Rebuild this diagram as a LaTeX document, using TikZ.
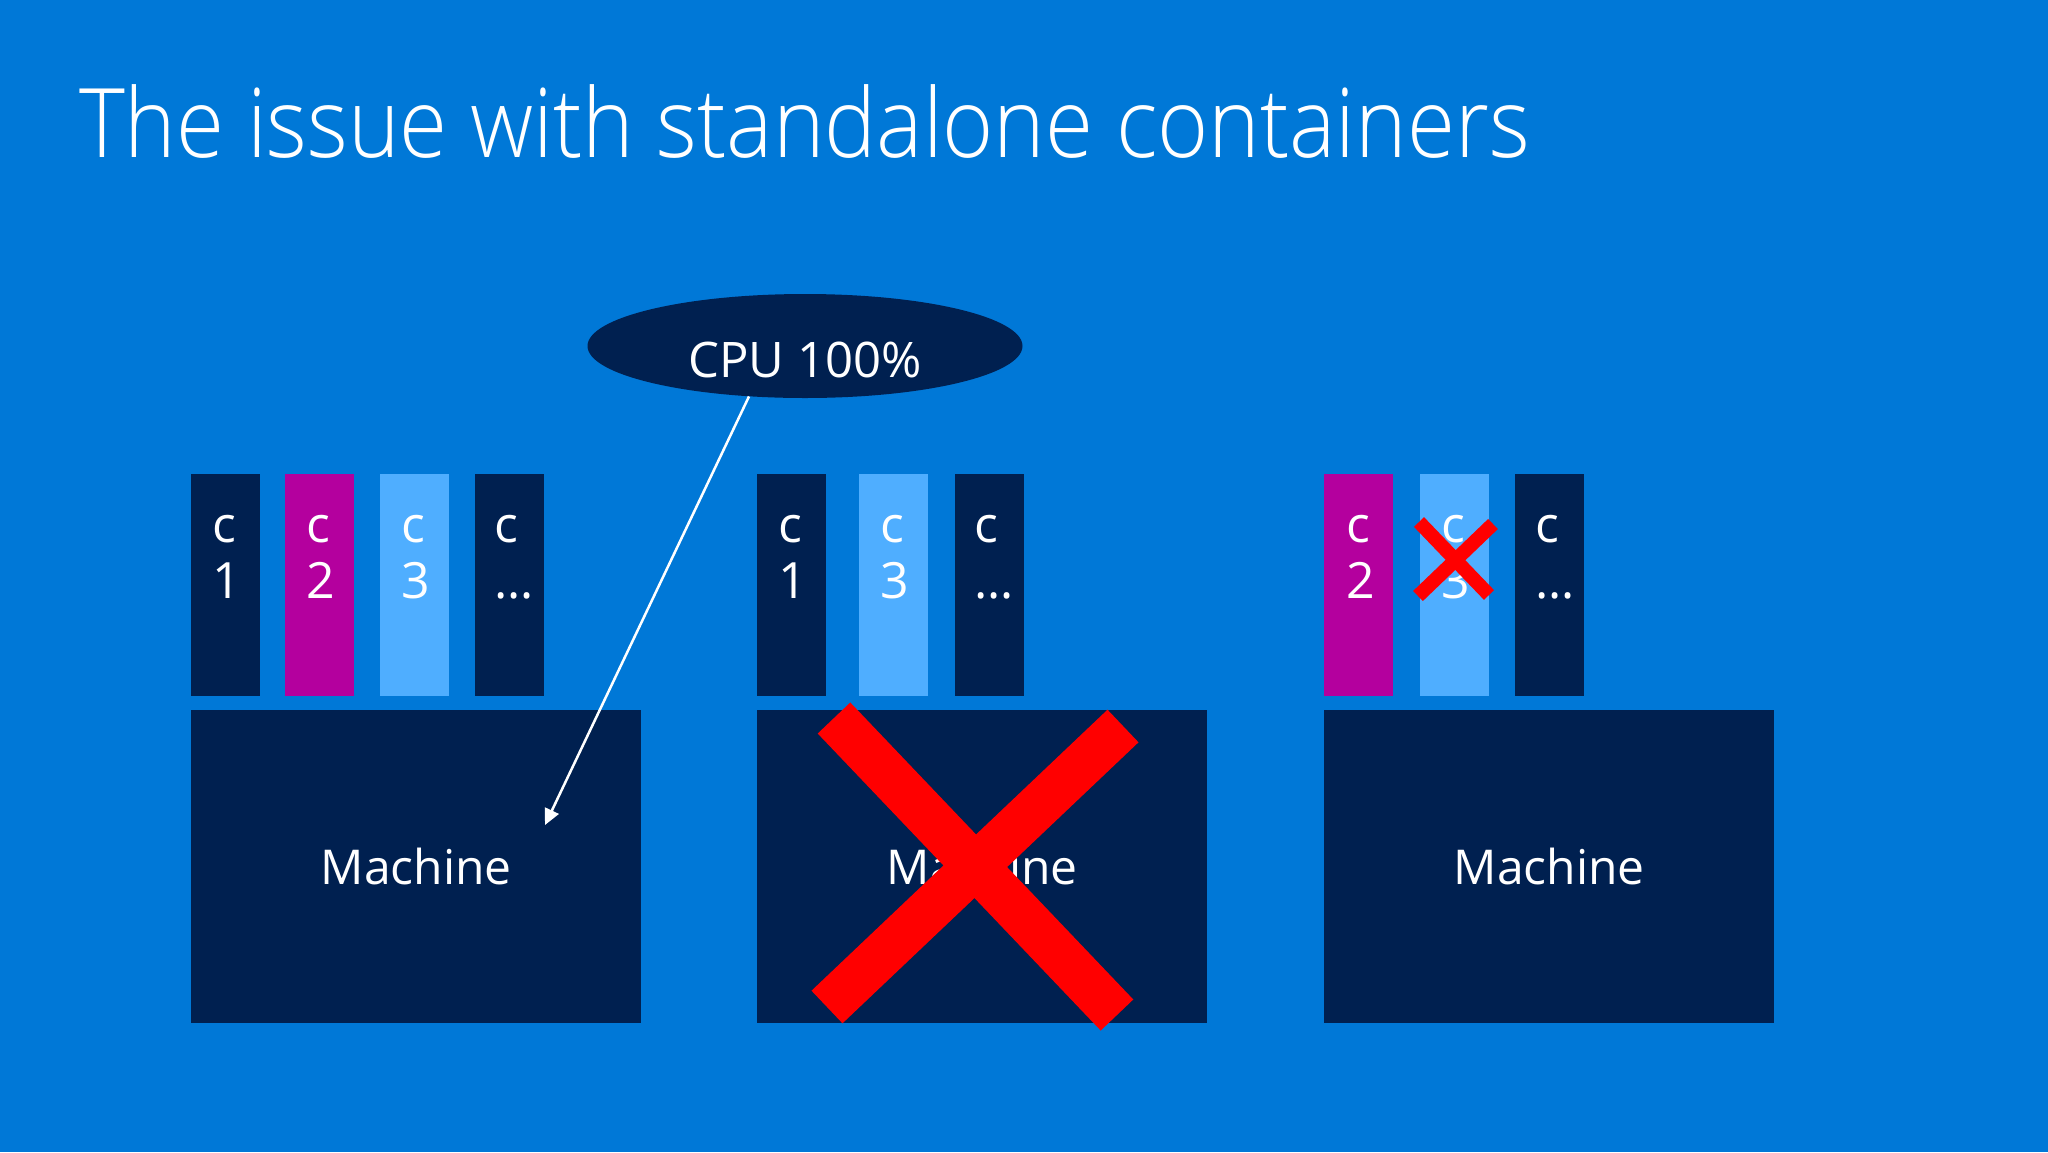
\documentclass[tikz,border=0pt]{standalone}
\usepackage{fontspec}
\setmainfont{Open Sans}
\newfontfamily\titlefont{Open Sans Light}
\usetikzlibrary{shapes.geometric,arrows.meta}
\definecolor{bgblue}{RGB}{0,120,215}
\definecolor{navy}{RGB}{0,32,80}
\definecolor{magenta}{RGB}{180,0,158}
\definecolor{lightblue}{RGB}{79,174,255}
\definecolor{xred}{RGB}{255,0,0}
\tikzset{
  cont/.style={rectangle, anchor=north west, inner sep=0pt, minimum width=69pt, minimum height=222pt, draw=none},
  ctext/.style={anchor=base west, inner sep=0pt, text=white, align=left, font=\fontsize{50}{56}\selectfont},
  machine/.style={rectangle, fill=navy, anchor=north west, inner sep=0pt, minimum width=450pt, minimum height=313pt, text=white, font=\fontsize{48}{56}\selectfont},
  bigx/.style={draw=xred, line width=45pt, line cap=butt},
  smallx/.style={draw=xred, line width=14pt, line cap=butt},
}
\begin{document}
\begin{tikzpicture}[x=1pt,y=-1pt]
\fill[bgblue] (0,0) rectangle (2048,1152);
\useasboundingbox (0,0) rectangle (2048,1152);
% title
\node[anchor=base west, inner sep=0pt, text=white, font=\titlefont\fontsize{96}{106}\selectfont] (title) at (79,157) {\scalebox{0.91}[1]{The issue with standalone containers}};
% group 1
\node[cont, fill=navy] (a1) at (191,474) {};
\node[cont, fill=magenta] (a2) at (285,474) {};
\node[cont, fill=lightblue] (a3) at (380,474) {};
\node[cont, fill=navy] (a4) at (475,474) {};
\node[ctext] (ta1) at (212,598) {c\\1};
\node[ctext] (ta2) at (306,598) {c\\2};
\node[ctext] (ta3) at (401,598) {c\\3};
\node[ctext] (ta4) at (494,598) {c\\…};
\node[machine] (m1) at (191,710) {Machine};
% group 2
\node[cont, fill=navy] (b1) at (757,474) {};
\node[cont, fill=lightblue] (b3) at (859,474) {};
\node[cont, fill=navy] (b4) at (955,474) {};
\node[ctext] (tb1) at (778,598) {c\\1};
\node[ctext] (tb3) at (880,598) {c\\3};
\node[ctext] (tb4) at (974,598) {c\\…};
\node[machine] (m2) at (757,710) {Machine};
\draw[bigx] (834,718) -- (1117,1015);
\draw[bigx] (1123,726) -- (827,1007);
% group 3
\node[cont, fill=magenta] (c2) at (1324,474) {};
\node[cont, fill=lightblue] (c3) at (1420,474) {};
\node[cont, fill=navy] (c4) at (1515,474) {};
\node[ctext] (tc2) at (1346,598) {c\\2};
\node[ctext] (tc3) at (1441,598) {c\\3};
\node[ctext] (tc4) at (1535,598) {c\\…};
\node[machine] (m3) at (1324,710) {Machine};
\draw[smallx] (1419,522) -- (1489,595);
\draw[smallx] (1493,524) -- (1418,596);
% CPU ellipse
\node[ellipse, fill=navy, inner sep=0pt, minimum width=435pt, minimum height=104pt, text=white, font=\fontsize{49}{56}\selectfont, text height=62pt, text depth=0pt] (cpu) at (805,346) {CPU 100\%};
\coordinate (tip) at (545,825);
\draw[white, line width=2.5pt, -{Triangle[length=16pt,width=15pt]}] (cpu.222) -- (tip);
\end{tikzpicture}
\end{document}
